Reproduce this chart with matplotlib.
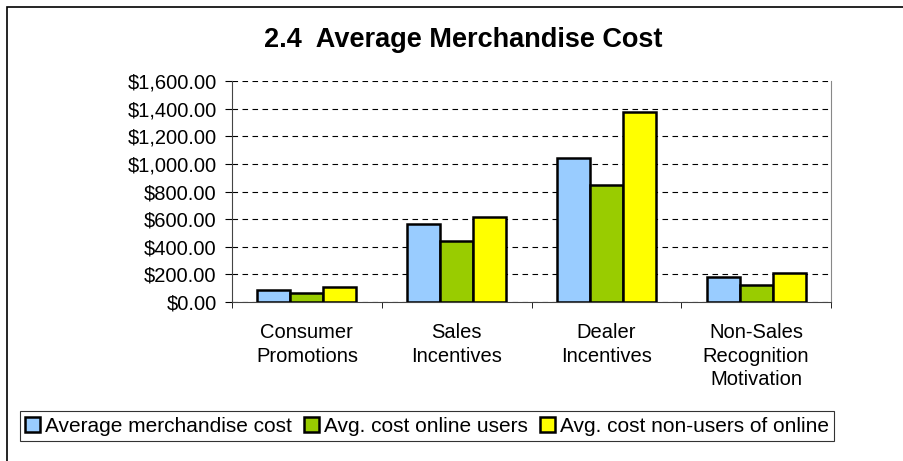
import matplotlib
matplotlib.use("Agg")
from matplotlib import pyplot as plt
from matplotlib.patches import Rectangle
from matplotlib.ticker import FuncFormatter
import numpy as np

categories = ["Consumer\nPromotions", "Sales\nIncentives", "Dealer\nIncentives",
              "Non-Sales\nRecognition\nMotivation"]
series_names = ["Average merchandise cost", "Avg. cost online users",
                "Avg. cost non-users of online"]
avg_cost = [87, 567, 1039, 179]
online_users = [63, 445, 850, 126]
non_users = [109, 617, 1378, 211]
colors = ["#99ccff", "#99cc00", "#ffff00"]

plt.rcParams["font.family"] = ["Liberation Sans", "DejaVu Sans"]

fig = plt.figure(figsize=(9.04, 4.61), dpi=100)
W, H = 904, 461

# outer chart frame
fig.patches.append(Rectangle((7 / W, -0.1), 1.2, (H - 7) / H + 0.1,
                             transform=fig.transFigure, fill=False,
                             edgecolor="black", linewidth=1.2))

ax = fig.add_axes([232 / W, 1 - 302 / H, (831 - 232) / W, (302 - 81) / H])

x = np.arange(len(categories))
bw = 0.22
for i, (vals, name) in enumerate(zip([avg_cost, online_users, non_users], series_names)):
    ax.bar(x + (i - 1) * bw, vals, bw, color=colors[i], edgecolor="black",
           linewidth=1.8, label=name, zorder=3)

ax.set_xlim(-0.5, len(categories) - 0.5)
ax.set_ylim(0, 1600)
ax.set_yticks(range(0, 1601, 200))
ax.yaxis.set_major_formatter(FuncFormatter(lambda v, p: f"${v:,.2f}"))
ax.yaxis.grid(True, linestyle=(0, (5, 4)), color="black", linewidth=0.8, zorder=0)
ax.set_xticks(x)
ax.set_xticklabels(categories, fontsize=14.5, linespacing=1.32)
ax.set_xticks(np.arange(-0.5, len(categories), 1), minor=True)
ax.tick_params(axis="x", which="major", length=0, pad=15)
ax.tick_params(axis="x", which="minor", length=4, direction="out")
ax.tick_params(axis="y", labelsize=14.5, length=5, direction="out", pad=6)
for lab in ax.get_xticklabels():
    lab.set_verticalalignment("top")

ax.spines["top"].set_visible(False)
ax.spines["right"].set_color("#888888")
ax.spines["left"].set_color("#444444")
ax.spines["bottom"].set_color("#444444")

fig.text(463 / W, 1 - 40 / H, "2.4  Average Merchandise Cost", ha="center", va="center",
         fontsize=19.5, fontweight="bold")

leg = fig.legend(loc="center", bbox_to_anchor=(427 / W, 1 - 426 / H), ncol=3,
                 fontsize=15, frameon=True, fancybox=False, edgecolor="black",
                 handlelength=0.7, handleheight=0.7, handletextpad=0.25,
                 columnspacing=0.6, borderpad=0.25)
leg.get_frame().set_linewidth(0.8)

fig.savefig("out.png", dpi=100)
